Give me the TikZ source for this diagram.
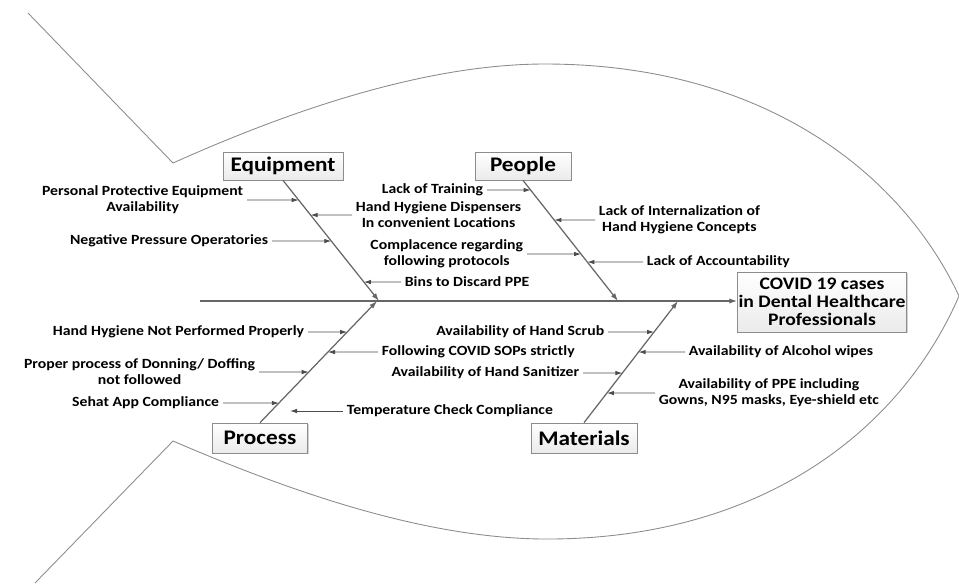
\documentclass[tikz,border=0pt]{standalone}
\usepackage{fontspec}
\setmainfont{Carlito}[FakeStretch=1.12]
\usetikzlibrary{arrows.meta,calc,shadows}

\begin{document}
\begin{tikzpicture}[x=0.02cm,y=-0.02cm,
        outline/.style={draw=black!45,line width=0.5pt},
        bone/.style={draw=black!60,line width=0.7pt,-{Latex[length=4.5pt,width=3pt]}},
        cause/.style={draw=black!70,line width=0.5pt,-{Latex[length=4pt,width=2.6pt]}},
        catbox/.style={draw=black!45,top color=white,bottom color=black!8,
            drop shadow={shadow xshift=0.6pt,shadow yshift=-0.6pt,opacity=0.35},
            font=\fontsize{11.8}{13}\selectfont\bfseries,inner sep=0pt,minimum height=0.56cm},
        effectbox/.style={catbox,font=\fontsize{10}{10.4}\selectfont\bfseries,align=center,
            minimum width=3.38cm,minimum height=1.2cm},
        lbl/.style={font=\fontsize{8}{9.1}\selectfont\bfseries,align=center,inner sep=2pt}]
    \useasboundingbox (0,0) rectangle (959,583);
    % Fish outline
    \draw[outline] (28,13) -- (173,163)
        .. controls (280,115) and (420,64) .. (545,64)
        .. controls (760,64) and (900,170) .. (959,296)
        .. controls (900,432) and (760,539) .. (547,539)
        .. controls (420,539) and (280,487) .. (173,441) -- (35,583);
    % Head and spine
    \node[effectbox] (effect) at (822,302) {COVID 19 cases\\in Dental Healthcare\\Professionals};
    \coordinate (tail) at (200,301);
    \draw[bone] (tail) -- (tail -| effect.west);
    % Categories
    \node[catbox,minimum width=2.4cm] (equip) at (283,166) {Equipment};
    \node[catbox,minimum width=1.92cm] (people) at (523,166) {People};
    \node[catbox,minimum width=1.9cm,minimum height=0.6cm] (proc) at (260,438) {Process};
    \node[catbox,minimum width=2.12cm,minimum height=0.6cm] (mat) at (584,438) {Materials};
    \coordinate (eqS) at (379,301);
    \coordinate (peS) at (618,301);
    \coordinate (prS) at (377,301);
    \coordinate (maS) at (678,301);
    \draw[bone] (equip.south) -- (eqS);
    \draw[bone] (people.south) -- (peS);
    \draw[bone] (proc.north) -- (prS);
    \draw[bone] (mat.north) -- (maS);
    % Equipment causes
    \node[lbl,anchor=east] (ppe) at (247,200) {Personal Protective Equipment\\Availability};
    \node[lbl,anchor=west] (hhd) at (352,215) {Hand Hygiene Dispensers\\In convenient Locations};
    \node[lbl,anchor=east] (negp) at (272,241) {Negative Pressure Operatories};
    \node[lbl,anchor=west] (bins) at (401,282) {Bins to Discard PPE};
    \draw[cause] (ppe.east) -- (intersection of ppe.west--ppe.east and equip.south--eqS);
    \draw[cause] (hhd.west) -- (intersection of hhd.west--hhd.east and equip.south--eqS);
    \draw[cause] (negp.east) -- (intersection of negp.west--negp.east and equip.south--eqS);
    \draw[cause] (bins.west) -- (intersection of bins.west--bins.east and equip.south--eqS);
    % People causes
    \node[lbl,anchor=east] (train) at (487,190) {Lack of Training};
    \node[lbl,anchor=west] (intern) at (595,220) {Lack of Internalization of\\Hand Hygiene Concepts};
    \node[lbl,anchor=east] (compl) at (527,254) {Complacence regarding\\following protocols};
    \node[lbl,anchor=west] (account) at (643,262) {Lack of Accountability};
    \draw[cause] (train.east) -- (intersection of train.west--train.east and people.south--peS);
    \draw[cause] (intern.west) -- (intersection of intern.west--intern.east and people.south--peS);
    \draw[cause] (compl.east) -- (intersection of compl.west--compl.east and people.south--peS);
    \draw[cause] (account.west) -- (intersection of account.west--account.east and people.south--peS);
    % Process causes
    \node[lbl,anchor=east] (hhnot) at (308,332) {Hand Hygiene Not Performed Properly};
    \node[lbl,anchor=west] (follow) at (378,352) {Following COVID SOPs strictly};
    \node[lbl,anchor=east] (donn) at (259,372) {Proper process of Donning/ Doffing\\not followed};
    \node[lbl,anchor=east] (sehat) at (223,403) {Sehat App Compliance};
    \node[lbl,anchor=west] (temp) at (343,411) {Temperature Check Compliance};
    \coordinate (tempTip) at (290,411);
    \draw[cause] (hhnot.east) -- (intersection of hhnot.west--hhnot.east and proc.north--prS);
    \draw[cause] (follow.west) -- (intersection of follow.west--follow.east and proc.north--prS);
    \draw[cause] (donn.east) -- (intersection of donn.west--donn.east and proc.north--prS);
    \draw[cause] (sehat.east) -- (intersection of sehat.west--sehat.east and proc.north--prS);
    \draw[cause] (temp.west) -- (temp.west -| tempTip);
    % Materials causes
    \node[lbl,anchor=east] (scrub) at (608,332) {Availability of Hand Scrub};
    \node[lbl,anchor=west] (alcohol) at (685,352) {Availability of Alcohol wipes};
    \node[lbl,anchor=east] (sanit) at (583,373) {Availability of Hand Sanitizer};
    \node[lbl,anchor=west] (ppeinc) at (655,393) {Availability of PPE including\\Gowns, N95 masks, Eye-shield etc};
    \draw[cause] (scrub.east) -- (intersection of scrub.west--scrub.east and mat.north--maS);
    \draw[cause] (alcohol.west) -- (intersection of alcohol.west--alcohol.east and mat.north--maS);
    \draw[cause] (sanit.east) -- (intersection of sanit.west--sanit.east and mat.north--maS);
    \draw[cause] (ppeinc.west) -- (intersection of ppeinc.west--ppeinc.east and mat.north--maS);
\end{tikzpicture}
\end{document}
